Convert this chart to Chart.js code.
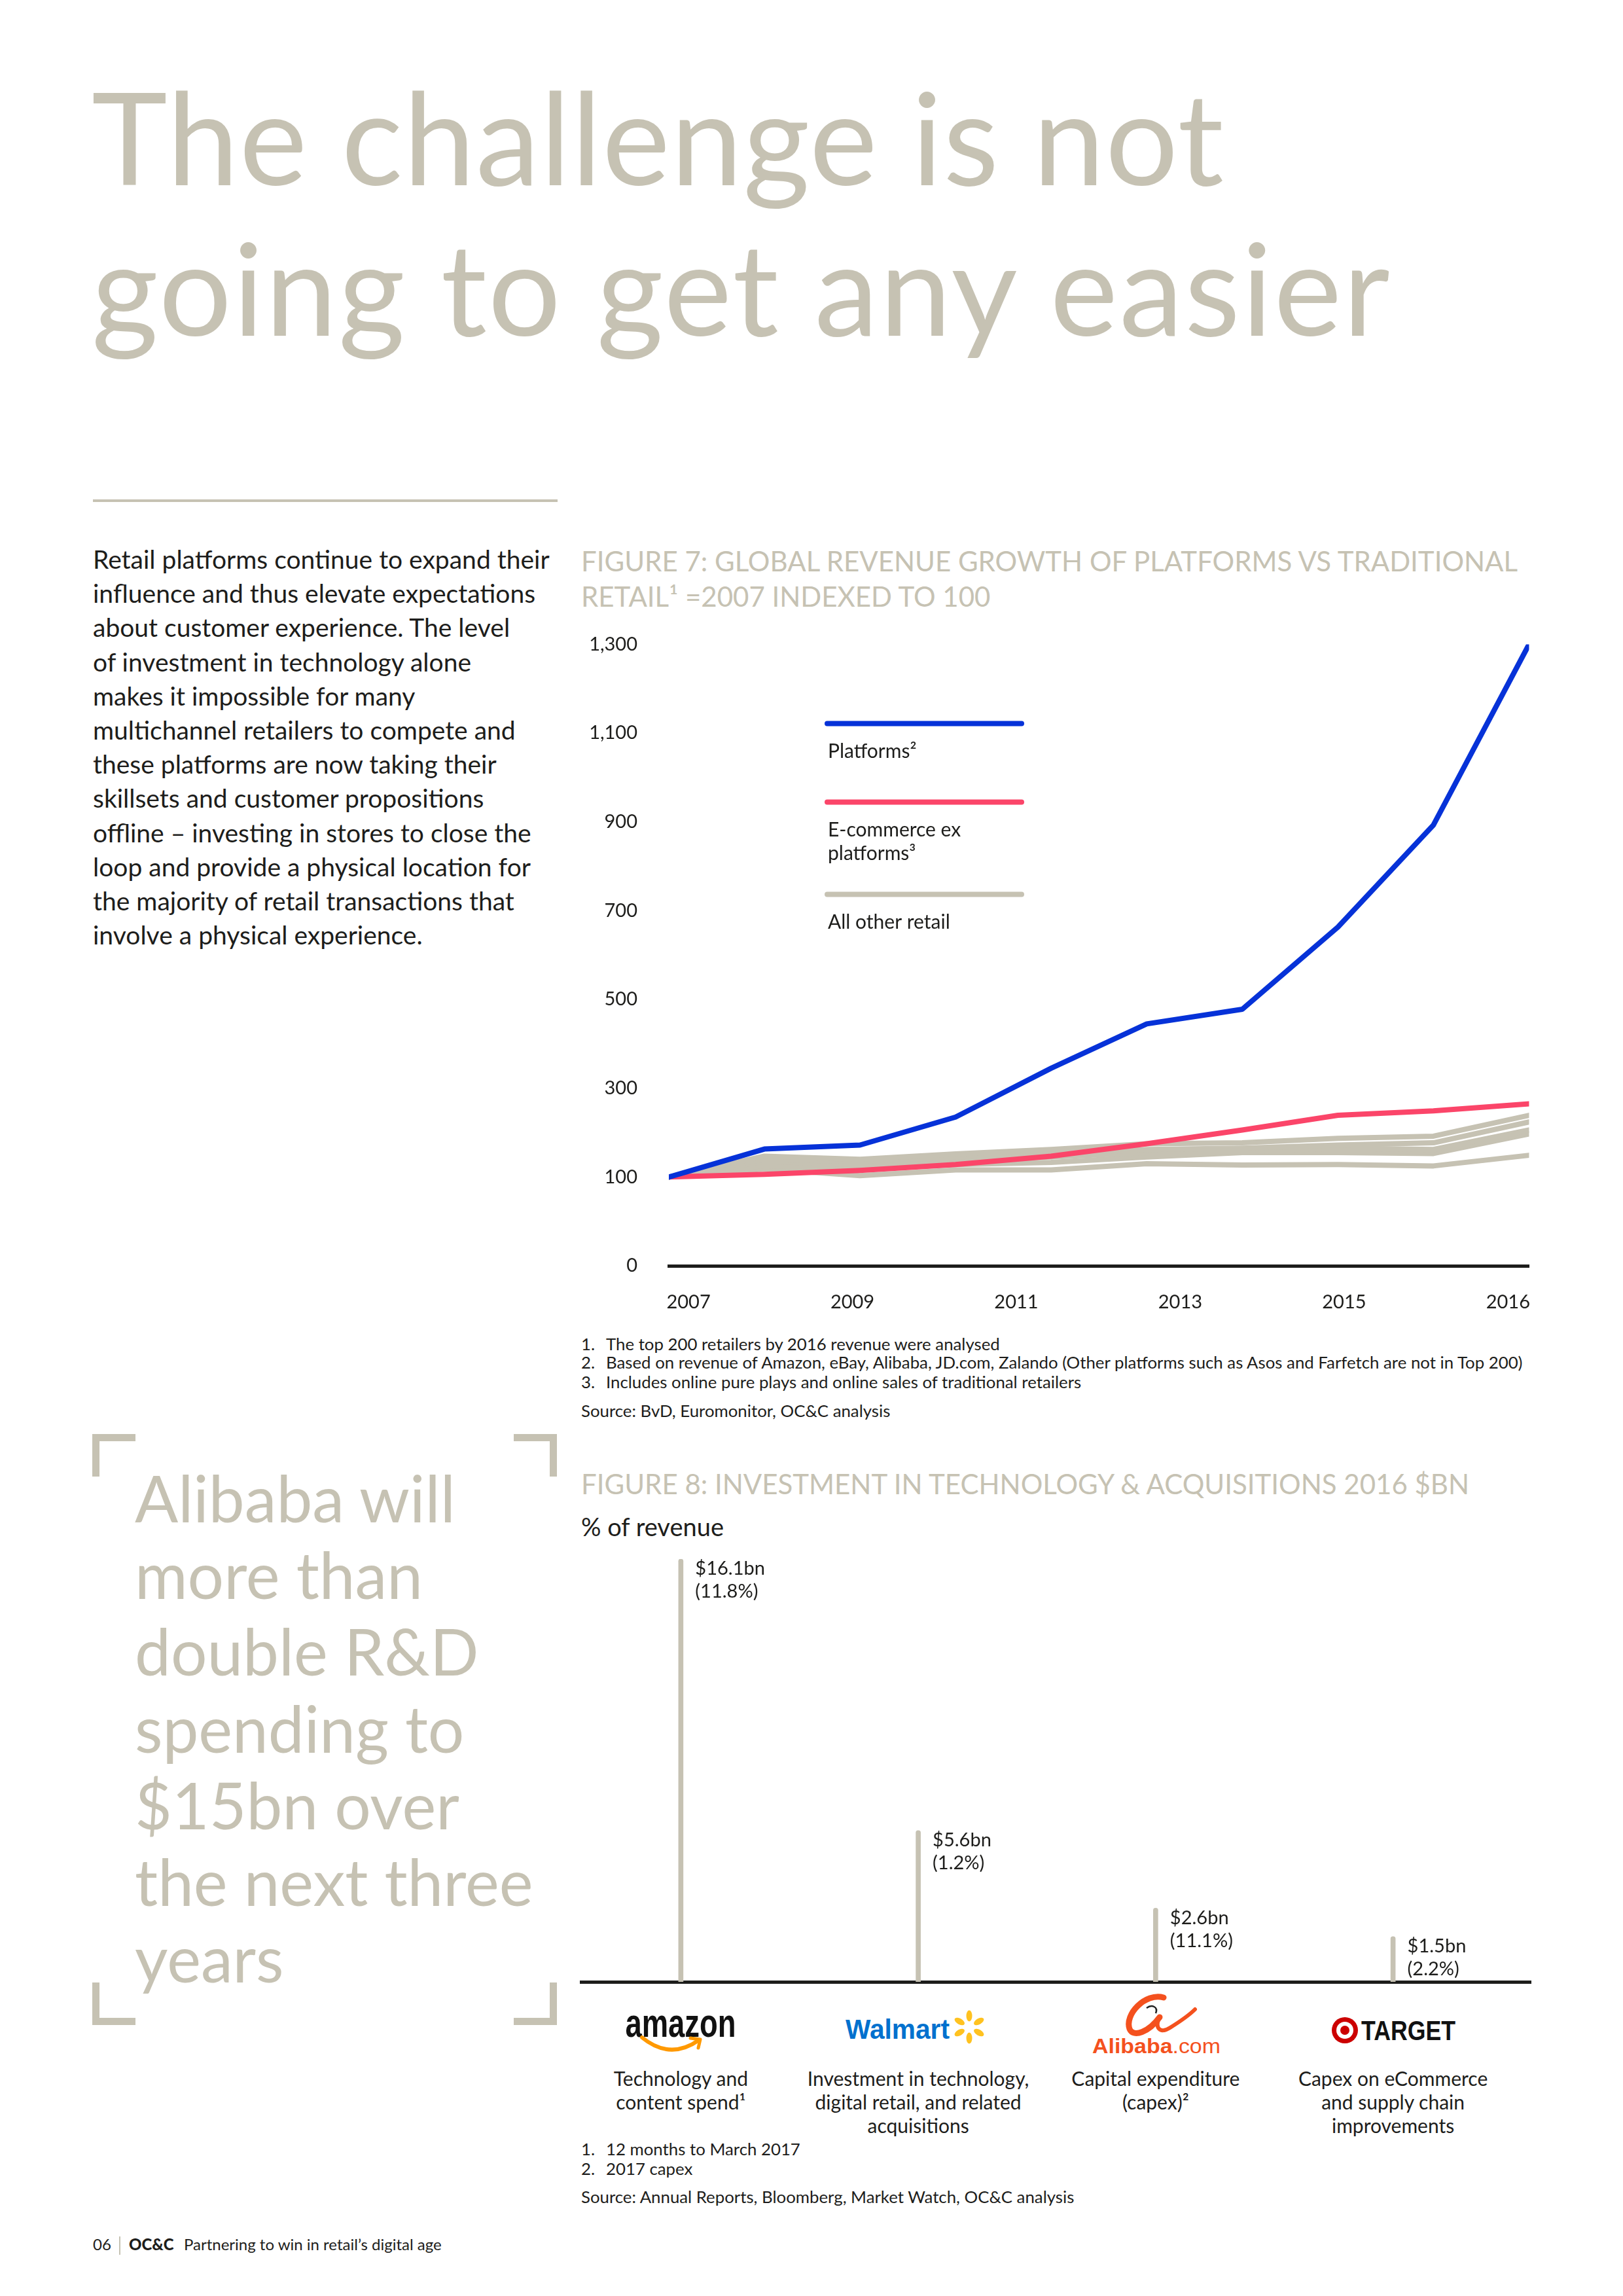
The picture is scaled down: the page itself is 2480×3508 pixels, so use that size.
<!DOCTYPE html>
<html>
<head>
<meta charset="utf-8">
<script src="https://cdn.jsdelivr.net/npm/chart.js@4.4.1/dist/chart.umd.min.js"></script>
<style>
html,body{margin:0;padding:0;background:#fff;}
#page{position:relative;width:2480px;height:3508px;overflow:hidden;font-family:Lato,'Noto Sans',sans-serif;color:#1d1d1b;background:#fff;}
.abs{position:absolute;white-space:nowrap;}
.beige{color:#c6c2b3;}
.title{font-size:196px;line-height:230px;font-weight:400;}
.body{font-size:39px;line-height:52.2px;}
.figt{font-size:42px;line-height:54px;}
.foot{font-size:25.8px;line-height:29px;}
.foot .n{display:inline-block;width:38px;}
.cap{font-size:30px;line-height:36px;text-align:center;width:560px;}
.br{position:absolute;border:0 solid #c6c2b3;width:55px;height:54px;}
canvas{position:absolute;}
</style>
</head>
<body>
<div id="page">
  <div class="abs beige title" style="left:140px;top:93px;"><span style="letter-spacing:1.15px;">The challenge is not</span><br><span style="letter-spacing:2.3px;">going to get any easier</span></div>
  <div class="abs" style="left:142px;top:763px;width:710px;height:4px;background:#c6c2b3;"></div>

  <div class="abs body" style="left:142px;top:828px;">Retail platforms continue to expand their<br>influence and thus elevate expectations<br>about customer experience. The level<br>of investment in technology alone<br>makes it impossible for many<br>multichannel retailers to compete and<br>these platforms are now taking their<br>skillsets and customer propositions<br>offline – investing in stores to close the<br>loop and provide a physical location for<br>the majority of retail transactions that<br>involve a physical experience.</div>

  <div class="abs beige figt" style="left:888px;top:830px;">FIGURE 7: GLOBAL REVENUE GROWTH OF PLATFORMS VS TRADITIONAL<br>RETAIL¹ =2007 INDEXED TO 100</div>

  <canvas id="fig7" width="1517" height="1101" style="left:860px;top:919px;width:1517px;height:1101px;"></canvas>

  <div class="abs foot" style="left:888px;top:2039px;"><span class="n">1.</span>The top 200 retailers by 2016 revenue were analysed</div>
  <div class="abs foot" style="left:888px;top:2067px;"><span class="n">2.</span>Based on revenue of Amazon, eBay, Alibaba, JD.com, Zalando (Other platforms such as Asos and Farfetch are not in Top 200)</div>
  <div class="abs foot" style="left:888px;top:2097px;"><span class="n">3.</span>Includes online pure plays and online sales of traditional retailers</div>
  <div class="abs foot" style="left:888px;top:2141px;">Source: BvD, Euromonitor, OC&amp;C analysis</div>

  <div class="br" style="left:141px;top:2191px;border-left-width:11px;border-top-width:11px;"></div>
  <div class="br" style="left:785px;top:2191px;border-right-width:11px;border-top-width:11px;"></div>
  <div class="br" style="left:141px;top:3029px;border-left-width:11px;border-bottom-width:11px;"></div>
  <div class="br" style="left:785px;top:3029px;border-right-width:11px;border-bottom-width:11px;"></div>
  <div class="abs beige" style="left:206px;top:2230px;font-size:98px;line-height:117.2px;">Alibaba will<br>more than<br>double R&amp;D<br>spending to<br>$15bn over<br>the next three<br>years</div>

  <div class="abs beige figt" style="left:888px;top:2240px;">FIGURE 8: INVESTMENT IN TECHNOLOGY &amp; ACQUISITIONS 2016 $BN</div>
  <div class="abs" style="left:888px;top:2310px;font-size:38px;line-height:44px;">% of revenue</div>

  <canvas id="fig8" width="1480" height="700" style="left:880px;top:2340px;width:1480px;height:700px;"></canvas>

  <div class="abs foot" style="left:888px;top:3269px;"><span class="n">1.</span>12 months to March 2017</div>
  <div class="abs foot" style="left:888px;top:3299px;"><span class="n">2.</span>2017 capex</div>
  <div class="abs foot" style="left:888px;top:3342px;">Source: Annual Reports, Bloomberg, Market Watch, OC&amp;C analysis</div>

  <div class="abs" style="left:142px;top:3413px;font-size:24px;line-height:32px;">06</div>
  <div class="abs" style="left:182px;top:3417px;width:2px;height:28px;background:#c6c2b3;"></div>
  <div class="abs" style="left:197px;top:3413px;font-size:24px;line-height:32px;font-weight:900;">OC&amp;C</div>
  <div class="abs" style="left:281px;top:3413px;font-size:24px;line-height:32px;">Partnering to win in retail’s digital age</div>
</div>

<script>
// ---------- Figure 7 data ----------
const years = [2007, 2008, 2009, 2010, 2011, 2012, 2013, 2014, 2015, 2016];
const platforms = [100, 163, 172, 235, 345, 445, 478, 663, 893, 1300];
const ecommerceExPlatforms = [100, 106, 115, 128, 147, 175, 206, 239, 249, 265];
const otherRetailA = [100, 147, 140, 152, 162, 175, 177, 187, 192, 239];
const otherRetailB = [100, 140, 135, 145, 152, 162, 165, 172, 177, 224];
const otherRetailC = [100, 135, 128, 138, 145, 155, 157, 165, 162, 206];
const otherRetailD = [100, 126, 118, 128, 133, 145, 155, 155, 153, 197];
const otherRetailE = [100, 118, 103, 116, 116, 130, 127, 128, 125, 149];
const yTickValues = [-100, 100, 300, 500, 700, 900, 1100, 1300];
const yTickLabels = ['0', '100', '300', '500', '700', '900', '1,100', '1,300'];
const xTickLabels = ['2007', '2009', '2011', '2013', '2015', '2016'];
const legendLabels = [['Platforms²'], ['E-commerce ex', 'platforms³'], ['All other retail']];

// ---------- Figure 8 data ----------
const retailers = ['Amazon', 'Walmart', 'Alibaba', 'Target'];
const investmentBn = [16.1, 5.6, 2.6, 1.5];
const pctOfRevenue = [11.8, 1.2, 11.1, 2.2];
const investmentCaptions = [
  ['Technology and', 'content spend¹'],
  ['Investment in technology,', 'digital retail, and related', 'acquisitions'],
  ['Capital expenditure', '(capex)²'],
  ['Capex on eCommerce', 'and supply chain', 'improvements']
];
const fig8AxisMin = -0.25;

const BLUE = '#0632d8', PINK = '#fb4569', GREY = '#c6c2b3', INK = '#1d1d1b';
const toXY = arr => arr.map((v, i) => ({ x: years[i], y: v }));

const legendPlugin = {
  id: 'customLegend',
  afterDatasetsDraw(chart) {
    const { ctx, chartArea: a } = chart;
    const items = [
      { color: BLUE, lines: legendLabels[0], dy: 121 },
      { color: PINK, lines: legendLabels[1], dy: 241 },
      { color: GREY, lines: legendLabels[2], dy: 382 }
    ];
    ctx.save();
    items.forEach(it => {
      ctx.strokeStyle = it.color; ctx.lineWidth = 8; ctx.lineCap = 'round';
      ctx.beginPath(); ctx.moveTo(a.left + 242, a.top + it.dy); ctx.lineTo(a.left + 539, a.top + it.dy); ctx.stroke();
      ctx.fillStyle = INK; ctx.font = '30px Lato'; ctx.textBaseline = 'middle'; ctx.textAlign = 'left';
      it.lines.forEach((t, j) => ctx.fillText(t, a.left + 243, a.top + it.dy + 43 + j * 36));
    });
    ctx.restore();
  }
};

const greySets = [otherRetailA, otherRetailB, otherRetailC, otherRetailD, otherRetailE].map((d, k) => ({
  label: 'All other retail ' + (k + 1), data: toXY(d), borderColor: GREY, order: 2
}));

new Chart(document.getElementById('fig7'), {
  type: 'line',
  data: {
    datasets: [
      { label: 'Platforms', data: toXY(platforms), borderColor: BLUE, order: 0 },
      { label: 'E-commerce ex platforms', data: toXY(ecommerceExPlatforms), borderColor: PINK, order: 1 },
      ...greySets
    ]
  },
  options: {
    responsive: false, animation: false, devicePixelRatio: 1,
    layout: { autoPadding: false, padding: { top: 36, right: 24, bottom: 0, left: 0 } },
    elements: {
      line: { borderWidth: 8, tension: 0, borderCapStyle: 'round', borderJoinStyle: 'round', fill: false },
      point: { radius: 0, hoverRadius: 0 }
    },
    plugins: { legend: { display: false }, tooltip: { enabled: false } },
    scales: {
      x: { type: 'linear', min: years[0], max: years[years.length - 1], display: false },
      x2: {
        type: 'linear', axis: 'x', position: 'bottom', min: -0.12, max: 5.128,
        grid: { display: false, drawTicks: false },
        border: { display: true, color: INK, width: 5 },
        afterBuildTicks: s => { s.ticks = xTickLabels.map((_, i) => ({ value: i })); },
        afterFit: s => { s.height = 86; },
        ticks: { padding: 38, color: INK, font: { family: 'Lato', size: 29 }, maxRotation: 0, autoSkip: false,
                 callback: (v, i) => xTickLabels[i] }
      },
      y: {
        type: 'linear', min: -100, max: 1300,
        grid: { display: false, drawTicks: false },
        border: { display: false },
        afterBuildTicks: s => { s.ticks = yTickValues.map(v => ({ value: v })); },
        afterFit: s => { s.width = 162; },
        ticks: { padding: 48, color: INK, font: { family: 'Lato', size: 29 }, callback: (v, i) => yTickLabels[i] }
      }
    }
  },
  plugins: [legendPlugin]
});

// ---------- Figure 8 ----------
const barLabelPlugin = {
  id: 'barLabels',
  afterDatasetsDraw(chart) {
    const { ctx } = chart;
    const meta = chart.getDatasetMeta(0);
    ctx.save();
    ctx.fillStyle = INK; ctx.font = '29px Lato'; ctx.textBaseline = 'middle'; ctx.textAlign = 'left';
    meta.data.forEach((bar, i) => {
      ctx.fillText('$' + investmentBn[i].toFixed(1) + 'bn', bar.x + 22, bar.y + 15);
      ctx.fillText('(' + pctOfRevenue[i].toFixed(1) + '%)', bar.x + 22, bar.y + 50);
    });
    ctx.restore();
  }
};

const fig8 = new Chart(document.getElementById('fig8'), {
  type: 'bar',
  data: {
    datasets: [{
      label: 'Investment 2016 $bn',
      data: investmentBn.map((v, i) => ({ x: i, y: v })),
      base: fig8AxisMin,
      backgroundColor: GREY, barThickness: 7,
      borderRadius: { topLeft: 4, topRight: 4, bottomLeft: 0, bottomRight: 0 }, borderSkipped: 'bottom'
    }]
  },
  options: {
    responsive: false, animation: false, devicePixelRatio: 1,
    layout: { autoPadding: false, padding: { top: 42, right: 21, bottom: 12, left: 8 } },
    plugins: { legend: { display: false }, tooltip: { enabled: false } },
    scales: {
      x: { type: 'linear', offset: false, min: -0.42, max: 3.58, grid: { display: false, drawTicks: false },
           ticks: { display: false }, border: { display: true, color: INK, width: 5 } },
      y: { display: false, min: fig8AxisMin, max: investmentBn[0] }
    }
  },
  plugins: [barLabelPlugin]
});

// captions and logos positioned at each category's pixel
const logoSvgs = {
  Amazon: `<text x="120" y="72" text-anchor="middle" font-family="Liberation Sans, Arial" font-weight="700" font-size="62" fill="#111" textLength="169" lengthAdjust="spacingAndGlyphs">amazon</text>
    <path d="M61,73 Q104,108 148,77" fill="none" stroke="#ff9900" stroke-width="6" stroke-linecap="round"/>
    <path d="M135,74 L150,76 L147,89" fill="none" stroke="#ff9900" stroke-width="5" stroke-linecap="round" stroke-linejoin="round"/>`,
  Walmart: `<text x="9" y="75" font-family="Liberation Sans, Arial" font-weight="700" font-size="42" fill="#0071ce" textLength="159" lengthAdjust="spacingAndGlyphs">Walmart</text>
    <g transform="translate(198,57)" fill="#ffc220">
      <ellipse cx="0" cy="-17" rx="4.5" ry="8.5"/>
      <ellipse cx="0" cy="-17" rx="4.5" ry="8.5" transform="rotate(60)"/>
      <ellipse cx="0" cy="-17" rx="4.5" ry="8.5" transform="rotate(120)"/>
      <ellipse cx="0" cy="-17" rx="4.5" ry="8.5" transform="rotate(180)"/>
      <ellipse cx="0" cy="-17" rx="4.5" ry="8.5" transform="rotate(240)"/>
      <ellipse cx="0" cy="-17" rx="4.5" ry="8.5" transform="rotate(300)"/>
    </g>`,
  Alibaba: `<path d="M132,12 C104,4 72,38 80,60 C86,74 110,64 126,42" fill="none" stroke="#f4511e" stroke-width="9" stroke-linecap="round"/>
    <path d="M126,42 C118,58 126,68 142,58 C158,48 170,40 180,30" fill="none" stroke="#f4511e" stroke-width="6" stroke-linecap="round"/>
    <path d="M106,28 C114,22 124,26 120,36" fill="none" stroke="#222" stroke-width="2.5"/>
    <text x="23" y="97" font-family="Liberation Sans, Arial" font-size="31" fill="#f4511e" textLength="196" lengthAdjust="spacingAndGlyphs"><tspan font-weight="700">Alibaba</tspan><tspan>.com</tspan></text>`,
  Target: `<circle cx="46" cy="62" r="20" fill="#cc0000"/><circle cx="46" cy="62" r="13" fill="#fff"/><circle cx="46" cy="62" r="7" fill="#cc0000"/>
    <text x="71" y="77" font-family="Liberation Sans, Arial" font-weight="700" font-size="42" fill="#111" textLength="144" lengthAdjust="spacingAndGlyphs">TARGET</text>`
};

const page = document.getElementById('page');
const canvas8 = document.getElementById('fig8');
const left8 = parseFloat(canvas8.style.left);
retailers.forEach((r, i) => {
  const cx = left8 + fig8.scales.x.getPixelForValue(i);
  const svg = document.createElementNS('http://www.w3.org/2000/svg', 'svg');
  svg.setAttribute('width', '240'); svg.setAttribute('height', '110');
  svg.setAttribute('viewBox', '0 0 240 110');
  svg.style.position = 'absolute';
  svg.style.left = (cx - 120) + 'px'; svg.style.top = '3040px';
  svg.innerHTML = logoSvgs[r];
  page.appendChild(svg);
  const cap = document.createElement('div');
  cap.className = 'abs cap';
  cap.style.left = (cx - 280) + 'px'; cap.style.top = '3157px';
  cap.innerHTML = investmentCaptions[i].join('<br>');
  page.appendChild(cap);
});
</script>
</body>
</html>
